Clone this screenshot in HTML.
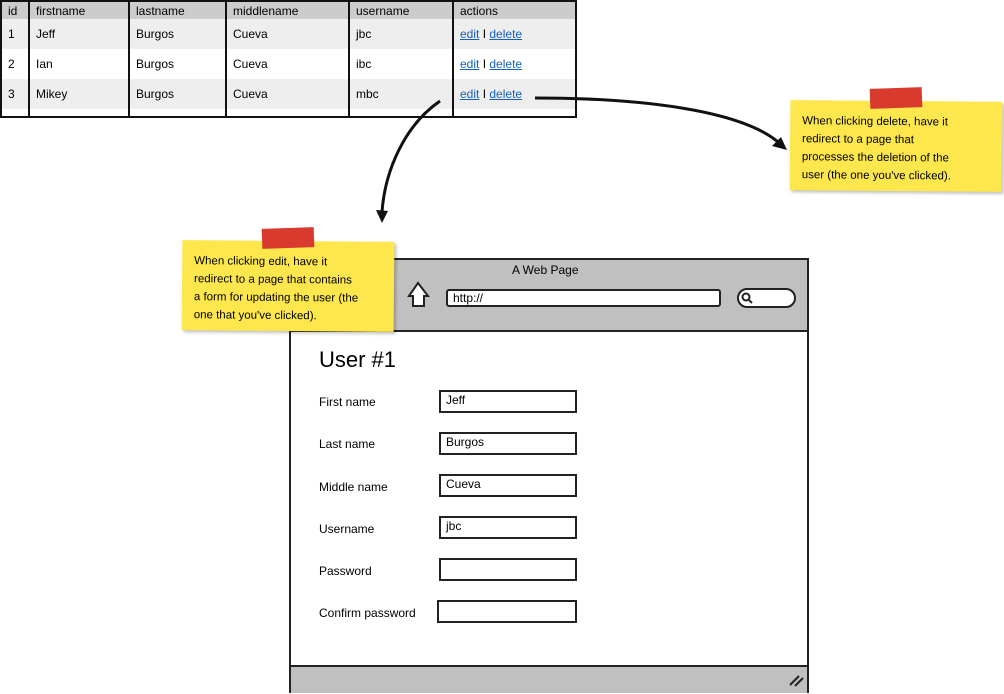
<!DOCTYPE html>
<html><head><style>
body{margin:0;width:1004px;height:694px;background:#fff;position:relative;overflow:hidden;font-family:"Liberation Sans",sans-serif;font-size:12px;color:#000}
.a{position:absolute}
table{position:absolute;left:0;top:0;border-collapse:collapse;border:2px solid #111;width:577px;height:118px;table-layout:fixed}
td{border-left:2px solid #111;padding:0 0 0 6px;font-size:12px;overflow:hidden;white-space:nowrap}
tr.h td{background:#ccc;height:17px;font-size:12px}
tr.g td{background:#eee}
a{color:#1560bd;text-decoration:underline}
.lbl{position:absolute;left:319px;font-size:12px}
.inp{position:absolute;left:439px;width:138px;height:23px;border:2px solid #222;box-sizing:border-box;padding:1px 5px;font-size:12px}
.note{position:absolute;background:#fde74c;box-shadow:2px 2px 3px rgba(0,0,0,.25);font-size:11.5px;line-height:18px;padding:12px 12px;box-sizing:border-box;white-space:nowrap}
.tape{position:absolute;background:#d93a2e;width:52px;height:20px}
</style></head><body>
<table>
<colgroup><col style="width:28px"><col style="width:100px"><col style="width:97px"><col style="width:123px"><col style="width:104px"><col></colgroup>
<tr class="h"><td>id</td><td>firstname</td><td>lastname</td><td>middlename</td><td>username</td><td>actions</td></tr>
<tr class="g"><td>1</td><td>Jeff</td><td>Burgos</td><td>Cueva</td><td>jbc</td><td><a>edit</a> I <a>delete</a></td></tr>
<tr><td>2</td><td>Ian</td><td>Burgos</td><td>Cueva</td><td>ibc</td><td><a>edit</a> I <a>delete</a></td></tr>
<tr class="g"><td>3</td><td>Mikey</td><td>Burgos</td><td>Cueva</td><td>mbc</td><td><a>edit</a> I <a>delete</a></td></tr>
<tr><td style="height:7px"></td><td></td><td></td><td></td><td></td><td></td></tr>
</table>

<div class="a" style="left:289px;top:258px;width:520px;height:435px;border:2px solid #222;box-sizing:border-box;background:#fff"></div>
<div class="a" style="left:291px;top:260px;width:516px;height:70px;background:#c0c0c0;border-bottom:2px solid #222"></div>
<div class="a" style="left:291px;top:665px;width:516px;height:26px;background:#c0c0c0;border-top:2px solid #222"></div>
<div class="a" style="left:512px;top:263px;font-size:12px">A Web Page</div>
<div class="a" style="left:446px;top:289px;width:275px;height:18px;border:2px solid #222;border-radius:3px;background:#fff;box-sizing:border-box;padding:0 5px;font-size:12px">http://</div>
<div class="a" style="left:737px;top:288px;width:59px;height:20px;border:2px solid #222;border-radius:10px;background:#fff;box-sizing:border-box"></div>
<svg class="a" style="left:0;top:0" width="1004" height="694">
<path d="M409 296 L418 283 L428 296 L424 296 L424 306 L413 306 L413 296 Z" fill="#fff" stroke="#222" stroke-width="2"/>
<circle cx="746" cy="297" r="3.5" fill="none" stroke="#222" stroke-width="2"/><line x1="749" y1="300" x2="752" y2="303" stroke="#222" stroke-width="2"/>
<path d="M790 685 L799 676 M795 686 L803 678" stroke="#222" stroke-width="2"/>
<path d="M440 101 C405 125 385 170 382 212" fill="none" stroke="#111" stroke-width="3"/>
<path d="M376 210 L382 223 L388 211 Z" fill="#111"/>
<path d="M535 98 C640 98 740 110 778 142" fill="none" stroke="#111" stroke-width="3"/>
<path d="M772 146 L787 150 L781 137 Z" fill="#111"/>
</svg>
<div class="lbl" style="top:347px;font-size:22px">User #1</div>
<div class="lbl" style="top:395px">First name</div><div class="inp" style="top:390px">Jeff</div>
<div class="lbl" style="top:437px">Last name</div><div class="inp" style="top:432px">Burgos</div>
<div class="lbl" style="top:480px">Middle name</div><div class="inp" style="top:474px">Cueva</div>
<div class="lbl" style="top:522px">Username</div><div class="inp" style="top:516px">jbc</div>
<div class="lbl" style="top:564px">Password</div><div class="inp" style="top:558px"></div>
<div class="lbl" style="top:606px">Confirm password</div><div class="inp" style="top:600px;left:437px;width:140px"></div>

<div class="note" style="left:182px;top:241px;width:212px;height:90px;transform:rotate(0.5deg)">When clicking edit, have it<br>redirect to a page that contains<br>a form for updating the user (the<br>one that you've clicked).</div>
<div class="tape" style="left:262px;top:228px;transform:rotate(-2deg)"></div>
<div class="note" style="left:790px;top:101px;width:212px;height:90px;transform:rotate(0.5deg)">When clicking delete, have it<br>redirect to a page that<br>processes the deletion of the<br>user (the one you've clicked).</div>
<div class="tape" style="left:870px;top:88px;transform:rotate(-2deg)"></div>
</body></html>
